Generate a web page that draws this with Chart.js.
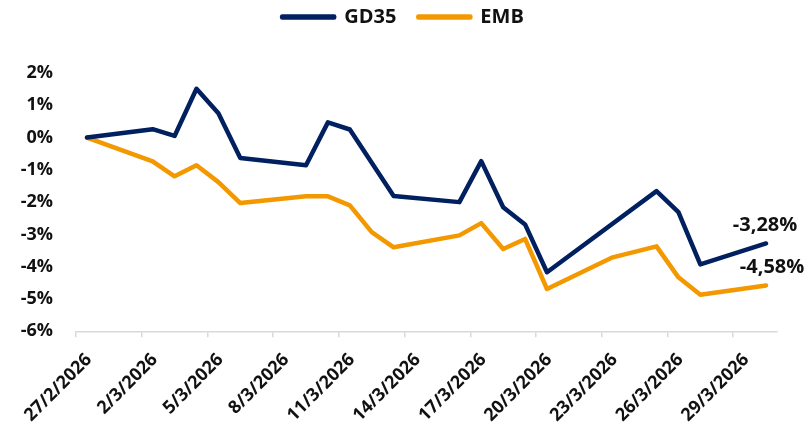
<!DOCTYPE html>
<html>
<head>
<meta charset="utf-8">
<script src="https://cdn.jsdelivr.net/npm/chart.js@4/dist/chart.umd.min.js"></script>
<style>
  html, body { margin: 0; padding: 0; background: #fff; }
  #wrap { width: 808px; height: 434px; }
</style>
</head>
<body>
<div id="wrap"><canvas id="perfChart" width="808" height="434"></canvas></div>
<script>
// trading days (d/m/yyyy) and cumulative returns in %
var dates = ['27/2/2026', '2/3/2026', '3/3/2026', '4/3/2026', '5/3/2026', '6/3/2026',
             '9/3/2026', '10/3/2026', '11/3/2026', '12/3/2026', '13/3/2026',
             '16/3/2026', '17/3/2026', '18/3/2026', '19/3/2026', '20/3/2026',
             '23/3/2026', '25/3/2026', '26/3/2026', '27/3/2026', '30/3/2026'];
var gd35 = [0, 0.26, 0.05, 1.51, 0.75, -0.63,
            -0.86, 0.47, 0.25, null, -1.81,
            -2.00, -0.73, -2.16, -2.69, -4.17,
            null, -1.66, -2.31, -3.93, -3.28];
var emb = [0, -0.74, -1.20, -0.86, -1.38, -2.03,
           -1.82, -1.82, -2.10, -2.93, -3.40,
           -3.03, -2.65, -3.45, -3.14, -4.69,
           -3.71, -3.37, -4.33, -4.87, -4.58];
var endLabels = ['-3,28%', '-4,58%'];
var yTicks = [2, 1, 0, -1, -2, -3, -4, -5, -6];

var navy = '#002060';
var orange = '#F49800';
var font = 'Open Sans';

// day offset from the first date; each point sits in the middle of its day
var DAY = 86400000;
function toUTC(s) {
    var p = s.split('/');
    return Date.UTC(+p[2], +p[1] - 1, +p[0]);
}
var start = toUTC(dates[0]);
function dayIndex(s) { return Math.round((toUTC(s) - start) / DAY); }
function dayLabel(v) {
    var d = new Date(start + v * DAY);
    return d.getUTCDate() + '/' + (d.getUTCMonth() + 1) + '/' + d.getUTCFullYear();
}
function toPoints(values) {
    return dates.map(function (s, i) { return { x: dayIndex(s) + 0.5, y: values[i] }; });
}

// value label next to the last point of each series
var endLabelPlugin = {
    id: 'endLabels',
    afterDatasetsDraw: function (chart) {
        var ctx = chart.ctx;
        ctx.save();
        ctx.font = 'bold 20px "' + font + '"';
        ctx.fillStyle = '#111';
        ctx.textAlign = 'center';
        ctx.textBaseline = 'middle';
        chart.data.datasets.forEach(function (ds, i) {
            var meta = chart.getDatasetMeta(i);
            var last = meta.data[meta.data.length - 1];
            ctx.fillText(endLabels[i], last.x + (i === 0 ? -1 : 6), last.y - 18);
        });
        ctx.restore();
    }
};

// extra space under the legend, and nudge it right
var legendGap = {
    id: 'legendGap',
    beforeInit: function (chart) {
        var origFit = chart.legend.fit;
        chart.legend.fit = function () {
            origFit.call(this);
            this.height += 36;
        };
    },
    afterLayout: function (chart) {
        chart.legend.left += 6;
        chart.legend.right += 6;
    }
};

var perfChart = new Chart(document.getElementById('perfChart').getContext('2d'), {
    type: 'line',
    data: {
        datasets: [{
            label: 'GD35',
            data: toPoints(gd35),
            borderColor: navy,
            backgroundColor: navy,
            borderWidth: 4.5,
            pointRadius: 0,
            tension: 0,
            spanGaps: true,
            borderJoinStyle: 'round',
            borderCapStyle: 'round'
        }, {
            label: 'EMB',
            data: toPoints(emb),
            borderColor: orange,
            backgroundColor: orange,
            borderWidth: 4.5,
            pointRadius: 0,
            tension: 0,
            spanGaps: true,
            borderJoinStyle: 'round',
            borderCapStyle: 'round'
        }]
    },
    options: {
        responsive: false,
        animation: false,
        layout: { padding: { top: -15, right: 31, left: 17, bottom: 0 } },
        scales: {
            x: {
                type: 'linear',
                min: 0,
                max: dayIndex(dates[dates.length - 1]) + 1,
                afterBuildTicks: function (scale) {
                    scale.ticks = scale.ticks.filter(function (t) { return t.value % 3 === 0; });
                },
                afterFit: function (scale) {
                    // labels may run past the bottom edge, like the original
                    scale.height -= 4;
                    scale.paddingLeft = 0;
                },
                ticks: {
                    stepSize: 3,
                    autoSkip: false,
                    maxRotation: 45,
                    minRotation: 45,
                    padding: 12,
                    labelOffset: 13,
                    color: '#111',
                    font: { family: font, size: 18, weight: 'bold' },
                    callback: function (v) { return dayLabel(v); }
                },
                grid: {
                    drawOnChartArea: false,
                    drawTicks: true,
                    tickLength: 6,
                    color: '#d9d9d9',
                    lineWidth: 1.5
                },
                border: { display: true, color: '#d9d9d9', width: 1.5 }
            },
            y: {
                min: -6,
                max: 2,
                afterBuildTicks: function (scale) {
                    scale.ticks = yTicks.map(function (v) { return { value: v }; });
                },
                afterFit: function (scale) {
                    scale.width = 59;
                },
                ticks: {
                    padding: 23,
                    color: '#111',
                    font: { family: font, size: 18, weight: 'bold' },
                    callback: function (v) { return v + '%'; }
                },
                grid: { display: false, drawTicks: false },
                border: { display: false }
            }
        },
        plugins: {
            legend: {
                position: 'top',
                labels: {
                    boxWidth: 52,
                    boxHeight: 1,
                    padding: 22,
                    color: '#111',
                    font: { family: font, size: 20, weight: 'bold' }
                }
            },
            tooltip: { enabled: false }
        }
    },
    plugins: [endLabelPlugin, legendGap]
});
</script>
</body>
</html>
